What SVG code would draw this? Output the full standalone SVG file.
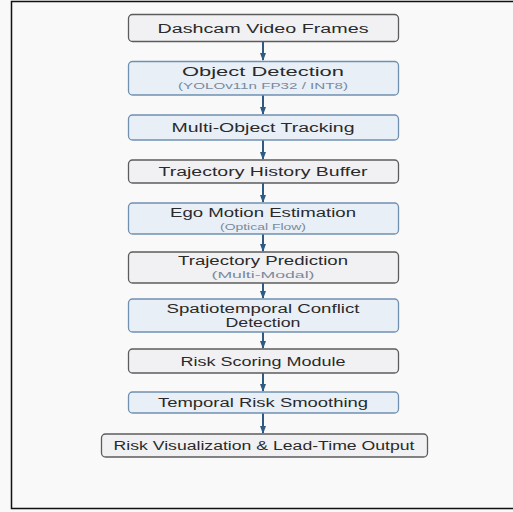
<svg xmlns="http://www.w3.org/2000/svg" width="513" height="512" viewBox="0 0 513 512">
<defs>
<style>
.g{fill:#f1f1f3;stroke:#5c5c5c;stroke-width:1.3}
.b{fill:#e9eff6;stroke:#7090b0;stroke-width:1.3}
.t{font-family:"Liberation Sans",Arial,sans-serif;font-size:12.5px;fill:#2a2a2a;text-anchor:middle}
.t2{font-family:"Liberation Sans",Arial,sans-serif;font-size:12px;fill:#2a2a2a;text-anchor:middle}
.s{font-family:"Liberation Sans",Arial,sans-serif;font-size:9.5px;fill:#7a8a9c;text-anchor:middle}
.c{stroke:#2f5b82;stroke-width:2;fill:none}
</style>
<marker id="ah" markerWidth="8" markerHeight="6" refX="7" refY="3" orient="auto" markerUnits="userSpaceOnUse">
<path d="M0,0 L8,3 L0,6 Z" fill="#2f5b82"/>
</marker>
</defs>
<rect x="0" y="0" width="513" height="512" fill="#f9f9fa"/>
<path d="M513,1.5 H11.5 V508.5 H513" fill="none" stroke="#111" stroke-width="1.5"/>
<g id="connectors">
<line class="c" x1="263" y1="41" x2="263" y2="60" marker-end="url(#ah)"/>
<line class="c" x1="263" y1="95" x2="263" y2="114" marker-end="url(#ah)"/>
<line class="c" x1="263" y1="140" x2="263" y2="159" marker-end="url(#ah)"/>
<line class="c" x1="263" y1="183" x2="263" y2="202" marker-end="url(#ah)"/>
<line class="c" x1="263" y1="234" x2="263" y2="251" marker-end="url(#ah)"/>
<line class="c" x1="263" y1="283" x2="263" y2="298" marker-end="url(#ah)"/>
<line class="c" x1="263" y1="332" x2="263" y2="348" marker-end="url(#ah)"/>
<line class="c" x1="263" y1="373" x2="263" y2="391" marker-end="url(#ah)"/>
<line class="c" x1="263" y1="413" x2="263" y2="433" marker-end="url(#ah)"/>
</g>
<g id="n1"><rect class="g" x="128.5" y="14.5" width="270" height="27" rx="4"/><text class="t" x="263" y="32.5" textLength="211" lengthAdjust="spacingAndGlyphs">Dashcam Video Frames</text></g>
<g id="n2"><rect class="b" x="128.5" y="61.5" width="270" height="33.5" rx="4"/><text class="t2" x="263" y="76" textLength="162" lengthAdjust="spacingAndGlyphs">Object Detection</text><text class="s" x="263" y="88.5" textLength="170" lengthAdjust="spacingAndGlyphs">(YOLOv11n FP32 / INT8)</text></g>
<g id="n3"><rect class="b" x="128.5" y="115" width="270" height="25" rx="4"/><text class="t" x="263" y="132" textLength="183" lengthAdjust="spacingAndGlyphs">Multi-Object Tracking</text></g>
<g id="n4"><rect class="g" x="128.5" y="160" width="270" height="23" rx="4"/><text class="t" x="263" y="176" textLength="209" lengthAdjust="spacingAndGlyphs">Trajectory History Buffer</text></g>
<g id="n5"><rect class="b" x="128.5" y="203" width="270" height="31" rx="4"/><text class="t2" x="263" y="216.5" textLength="186" lengthAdjust="spacingAndGlyphs">Ego Motion Estimation</text><text class="s" x="263" y="229.5" textLength="86" lengthAdjust="spacingAndGlyphs">(Optical Flow)</text></g>
<g id="n6"><rect class="g" x="128.5" y="252" width="270" height="31" rx="4"/><text class="t2" x="263" y="265" textLength="170" lengthAdjust="spacingAndGlyphs">Trajectory Prediction</text><text class="s" x="263" y="277.5" textLength="103" lengthAdjust="spacingAndGlyphs">(Multi-Modal)</text></g>
<g id="n7"><rect class="b" x="128.5" y="299" width="270" height="33" rx="4"/><text class="t2" x="263" y="313" textLength="193" lengthAdjust="spacingAndGlyphs">Spatiotemporal Conflict</text><text class="t2" x="263" y="327" textLength="75" lengthAdjust="spacingAndGlyphs">Detection</text></g>
<g id="n8"><rect class="g" x="128.5" y="349" width="270" height="24" rx="4"/><text class="t" x="263" y="365.5" textLength="165" lengthAdjust="spacingAndGlyphs">Risk Scoring Module</text></g>
<g id="n9"><rect class="b" x="128.5" y="392" width="270" height="21" rx="4"/><text class="t" x="263" y="407" textLength="210" lengthAdjust="spacingAndGlyphs">Temporal Risk Smoothing</text></g>
<g id="n10"><rect class="g" x="101.5" y="434" width="326" height="23" rx="4"/><text class="t" x="264" y="450" textLength="301" lengthAdjust="spacingAndGlyphs">Risk Visualization &amp; Lead-Time Output</text></g>
</svg>
